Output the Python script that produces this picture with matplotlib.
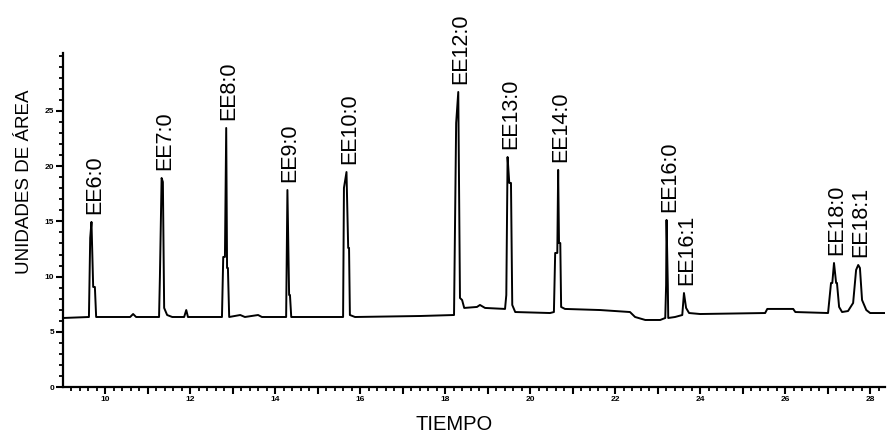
import matplotlib
matplotlib.use('Agg')
import matplotlib.pyplot as plt
from matplotlib.ticker import MultipleLocator, FixedLocator, FuncFormatter

plt.rcParams['font.family'] = ['Liberation Sans', 'DejaVu Sans']

# trazado del cromatograma (tiempo, unidades de área)
trace_t = [9.01, 9.62, 9.65, 9.68, 9.72, 9.76, 9.79, 10.59, 10.66, 10.73,
           11.27, 11.29, 11.33, 11.36, 11.39, 11.46, 11.58, 11.86, 11.91, 11.95,
           12.75, 12.78, 12.82, 12.85, 12.87, 12.89, 12.92, 13.18, 13.29, 13.60,
           13.69, 14.26, 14.29, 14.33, 14.35, 14.38, 15.60, 15.62, 15.68, 15.72,
           15.74, 15.76, 15.88, 17.41, 18.21, 18.26, 18.31, 18.35, 18.40, 18.45,
           18.75, 18.82, 18.94, 19.41, 19.44, 19.47, 19.51, 19.55, 19.58, 19.65,
           20.47, 20.56, 20.59, 20.64, 20.66, 20.68, 20.71, 20.73, 20.82, 21.65,
           22.35, 22.47, 22.71, 23.06, 23.18, 23.20, 23.21, 23.24, 23.25, 23.41,
           23.58, 23.62, 23.67, 23.74, 24.00, 25.53, 25.58, 26.19, 26.24, 27.01,
           27.08, 27.11, 27.15, 27.20, 27.22, 27.27, 27.34, 27.48, 27.60, 27.67,
           27.72, 27.76, 27.81, 27.91, 28.00, 28.35]
trace_v = [6.25, 6.34, 13.50, 14.95, 9.06, 9.06, 6.34, 6.34, 6.61, 6.34,
           6.34, 9.96, 18.93, 18.57, 7.16, 6.52, 6.34, 6.34, 6.97, 6.34,
           6.34, 11.78, 11.78, 23.46, 10.78, 10.78, 6.34, 6.52, 6.34, 6.52,
           6.34, 6.34, 17.84, 8.33, 8.33, 6.34, 6.34, 18.03, 19.47, 12.59,
           12.59, 6.52, 6.34, 6.43, 6.52, 23.91, 26.72, 8.06, 7.88, 7.16,
           7.25, 7.43, 7.16, 7.07, 8.33, 20.83, 18.48, 18.48, 7.43, 6.79,
           6.70, 6.79, 12.14, 12.14, 19.66, 13.04, 13.04, 7.25, 7.07, 6.97,
           6.79, 6.34, 6.07, 6.07, 6.25, 9.24, 15.13, 9.24, 6.25, 6.34,
           6.52, 8.51, 7.16, 6.70, 6.61, 6.70, 7.07, 7.07, 6.79, 6.70,
           9.42, 9.42, 11.23, 9.42, 9.42, 7.25, 6.79, 6.88, 7.61, 10.60,
           11.05, 10.78, 7.88, 6.97, 6.70, 6.70]

# picos identificados
peak_names = ['EE6:0', 'EE7:0', 'EE8:0', 'EE9:0', 'EE10:0', 'EE12:0',
              'EE13:0', 'EE14:0', 'EE16:0', 'EE16:1', 'EE18:0', 'EE18:1']
peak_t = [9.68, 11.33, 12.85, 14.29, 15.68, 18.31,
          19.47, 20.66, 23.21, 23.62, 27.15, 27.72]
peak_h = [14.95, 18.93, 23.46, 17.84, 19.47, 26.72,
          20.83, 19.66, 15.13, 8.51, 11.23, 11.05]

x_ticks = [10, 12, 14, 16, 18, 20, 22, 24, 26, 28]
y_ticks = [0, 5, 10, 15, 20, 25]

fig = plt.figure(figsize=(8.89, 4.37), dpi=100)
ax = fig.add_axes([63 / 889, 50 / 437, 822 / 889, 334 / 437])

ax.plot(trace_t, trace_v, color='black', lw=1.4)

for name, t, h in zip(peak_names, peak_t, peak_h):
    ax.annotate(name, (t, h), xytext=(2, 5.5), textcoords='offset points',
                rotation=90, ha='center', va='bottom', fontsize=15.5,
                annotation_clip=False)

ax.set_xlim(9.01, 28.35)
ax.set_ylim(0, 30.25)

for s in ['top', 'right']:
    ax.spines[s].set_visible(False)
for s in ['left', 'bottom']:
    ax.spines[s].set_linewidth(1.6)

# ejes: marcas mayores en enteros, etiquetas solo en pares
ax.xaxis.set_major_locator(FixedLocator(list(range(10, 29))))
ax.xaxis.set_major_formatter(FuncFormatter(
    lambda v, p: '%d' % v if int(round(v)) in x_ticks else ''))
ax.xaxis.set_minor_locator(MultipleLocator(0.2))
ax.yaxis.set_major_locator(FixedLocator(y_ticks))
ax.yaxis.set_minor_locator(MultipleLocator(1))

ax.tick_params(axis='both', which='major', length=5, width=1.5,
               labelsize=6, pad=1.5, direction='out')
ax.tick_params(axis='both', which='minor', length=3, width=1.3, direction='out')
for lab in ax.get_xticklabels() + ax.get_yticklabels():
    lab.set_fontweight('bold')

fig.text(25 / 889, 1 - 182 / 437, 'UNIDADES DE ÁREA', rotation=90,
         ha='center', va='center', fontsize=13.5)
fig.text(454 / 889, 1 - 425 / 437, 'TIEMPO', ha='center', va='center',
         fontsize=14.5)

fig.savefig('out.png', dpi=100)
